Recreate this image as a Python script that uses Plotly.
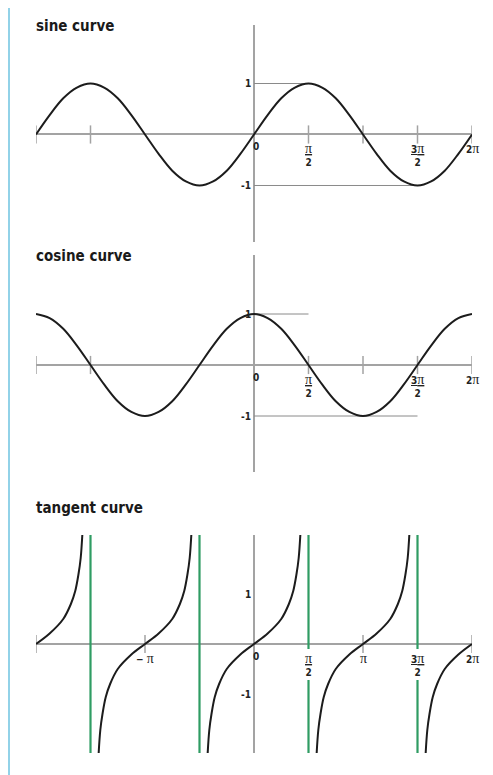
"""
Sine, cosine and tangent curves – three stacked panels drawn like a textbook figure.
"""
import numpy as np
import plotly.graph_objects as go

PI = np.pi

# ── palette ─────────────────────────────────────────────────────────
CURVE = "#1c1c1c"
AXIS = "#a3a3a3"
ASYMPTOTE = "#2f9c63"
BORDER = "#92d2e8"
TITLE_FONT = "DejaVu Sans Condensed, Liberation Sans Narrow, sans-serif"
LABEL_FONT = "DejaVu Sans Condensed, Liberation Sans Narrow, sans-serif"

# the page body has an 8px margin, so the figure is placed at (8, 8)
PAGE_OFF = 8
W, H = 493 - PAGE_OFF, 775 - PAGE_OFF


def px_x(px):
    return (px - PAGE_OFF) / W


def px_y(py):
    return 1 - (py - PAGE_OFF) / H


# ── data (x in multiples of pi) ─────────────────────────────────────
curve_x = np.arange(-2, 2.001, 0.125)          # every pi/8 from -2pi to 2pi
sine_y = [0, .38, .71, .92, 1, .92, .71, .38, 0, -.38, -.71, -.92, -1, -.92, -.71, -.38,
          0, .38, .71, .92, 1, .92, .71, .38, 0, -.38, -.71, -.92, -1, -.92, -.71, -.38, 0]
cosine_y = [1, .92, .71, .38, 0, -.38, -.71, -.92, -1, -.92, -.71, -.38, 0, .38, .71, .92,
            1, .92, .71, .38, 0, -.38, -.71, -.92, -1, -.92, -.71, -.38, 0, .38, .71, .92, 1]

# one tangent branch (offset from branch centre, value)
tan_offsets = [-0.425, -0.41, -0.39, -0.36, -0.32, -0.25, -0.125, 0,
               0.125, 0.25, 0.32, 0.36, 0.39, 0.41, 0.425]
tan_branch_y = [-2.18, -1.72, -1.40, -1.06, -0.80, -0.50, -0.21, 0,
                0.21, 0.50, 0.80, 1.06, 1.40, 1.72, 2.18]
tan_centres = [-2, -1, 0, 1, 2]
asymptote_x = [-1.5, -0.5, 0.5, 1.5]
asymptote_gap = {0.5: (-0.1, -0.72), 1.5: (-0.1, -0.72)}   # room for the fraction labels

# guide lines at +/-1 (x from, x to, y)
sine_guides = [(0, 0.5, 1), (0, 1.5, -1)]
cosine_guides = [(0, 0.5, 1), (0, 1.5, -1)]

sine_ticks = [-2, -1.5, 0.5, 1, 1.5, 2]
cosine_ticks = [-2, -1.5, 0.5, 1, 1.5, 2]
tan_ticks = [-2, -1, 1, 2]

PI_S = "<span style='font-family:Liberation Serif, serif;font-weight:normal;font-size:14px'>π</span>"
HALF = f"<u>{PI_S}</u><br>2"
THREE_HALF = f"<u>3{PI_S}</u><br>2"
trig_label_x = [0, 0.5, 1.5, 2]
trig_label_text = ["0", HALF, THREE_HALF, f"2{PI_S}"]
tan_label_x = [-1, 0, 0.5, 1, 1.5, 2]
tan_label_text = [f"− {PI_S}", "0", HALF, PI_S, THREE_HALF, f"2{PI_S}"]
y_label_vals = [1, -1]
y_label_text = ["1", "-1"]

# panel geometry (pixels in the reference) and value ranges
X_DOMAIN = [px_x(36), px_x(472)]
PANELS = [
    dict(name="sine curve", top=25, bottom=242, yrange=[-2.108, 2.147], title_py=26),
    dict(name="cosine curve", top=255, bottom=472, yrange=[-2.098, 2.157], title_py=256),
    dict(name="tangent curve", top=535, bottom=753, yrange=[-2.18, 2.18], title_py=508),
]

fig = go.Figure()
layout = dict(
    width=W, height=H,
    margin=dict(l=0, r=0, t=0, b=0),
    paper_bgcolor="white", plot_bgcolor="white",
    showlegend=False,
    annotations=[], shapes=[],
)


def axis_pair(i, p):
    sx = "" if i == 1 else str(i)
    layout[f"xaxis{sx}"] = dict(
        domain=X_DOMAIN, range=[-2 * PI, 2 * PI], anchor=f"y{sx}",
        showgrid=False, showticklabels=False, ticks="", showline=False,
        zeroline=True, zerolinecolor=AXIS, zerolinewidth=1.5, fixedrange=True,
    )
    layout[f"yaxis{sx}"] = dict(
        domain=[px_y(p["bottom"]), px_y(p["top"])], range=p["yrange"], anchor=f"x{sx}",
        showgrid=False, showticklabels=False, ticks="", showline=False,
        zeroline=True, zerolinecolor=AXIS, zerolinewidth=1.5, fixedrange=True,
    )
    return f"x{sx}", f"y{sx}"


def add_ticks(xr, yr, ticks):
    fig.add_trace(go.Scatter(
        x=[t * PI for t in ticks], y=[0] * len(ticks), xaxis=xr, yaxis=yr,
        mode="markers", hoverinfo="skip",
        marker=dict(symbol="line-ns-open", size=13, color=AXIS, line=dict(color=AXIS, width=1.5)),
    ))


def add_labels(xr, yr, xs, texts):
    for x, t in zip(xs, texts):
        layout["annotations"].append(dict(
            x=x * PI, y=0, xref=xr, yref=yr, text=f"<b>{t}</b>", showarrow=False,
            xanchor="center", yanchor="top", yshift=-5, xshift=2 if x == 0 else 0,
            font=dict(family=LABEL_FONT, size=10, color="#222"),
        ))
    for v, t in zip(y_label_vals, y_label_text):
        layout["annotations"].append(dict(
            x=0, y=v, xref=xr, yref=yr, text=f"<b>{t}</b>", showarrow=False,
            xanchor="right", yanchor="middle", xshift=-1,
            font=dict(family=LABEL_FONT, size=10, color="#222"),
        ))


def add_guides(xr, yr, guides):
    for x0, x1, y in guides:
        fig.add_trace(go.Scatter(
            x=[x0 * PI, x1 * PI], y=[y, y], xaxis=xr, yaxis=yr,
            mode="lines", line=dict(color="#8a8a8a", width=1), hoverinfo="skip",
        ))


def add_title(p):
    layout["annotations"].append(dict(
        x=X_DOMAIN[0], y=px_y(p["title_py"]), xref="paper", yref="paper",
        text=f"<b>{p['name']}</b>", showarrow=False,
        xanchor="left", yanchor="middle", xshift=-2,
        font=dict(family=TITLE_FONT, size=15, color="#1a1a1a"),
    ))


# 1  sine
xr, yr = axis_pair(1, PANELS[0])
add_guides(xr, yr, sine_guides)
add_ticks(xr, yr, sine_ticks)
fig.add_trace(go.Scatter(
    x=curve_x * PI, y=sine_y, xaxis=xr, yaxis=yr, mode="lines",
    line=dict(color=CURVE, width=2, shape="spline"), hoverinfo="skip",
))
add_labels(xr, yr, trig_label_x, trig_label_text)
add_title(PANELS[0])

# 2  cosine
xr, yr = axis_pair(2, PANELS[1])
add_guides(xr, yr, cosine_guides)
add_ticks(xr, yr, cosine_ticks)
fig.add_trace(go.Scatter(
    x=curve_x * PI, y=cosine_y, xaxis=xr, yaxis=yr, mode="lines",
    line=dict(color=CURVE, width=2, shape="spline"), hoverinfo="skip",
))
add_labels(xr, yr, trig_label_x, trig_label_text)
add_title(PANELS[1])

# 3  tangent
xr, yr = axis_pair(3, PANELS[2])
add_ticks(xr, yr, tan_ticks)
lo, hi = PANELS[2]["yrange"]
ax_x, ax_y = [], []
for a in asymptote_x:
    gap = asymptote_gap.get(a)
    if gap:
        ax_x += [a * PI, a * PI, None, a * PI, a * PI, None]
        ax_y += [hi, gap[0], None, gap[1], lo, None]
    else:
        ax_x += [a * PI, a * PI, None]
        ax_y += [hi, lo, None]
fig.add_trace(go.Scatter(
    x=ax_x, y=ax_y, xaxis=xr, yaxis=yr, mode="lines",
    line=dict(color=ASYMPTOTE, width=2.2), hoverinfo="skip",
))
tx, ty = [], []
for c in tan_centres:
    for off, v in zip(tan_offsets, tan_branch_y):
        if (c == tan_centres[0] and off < 0) or (c == tan_centres[-1] and off > 0):
            continue
        tx.append((c + off) * PI)
        ty.append(v)
    tx.append(None)
    ty.append(None)
fig.add_trace(go.Scatter(
    x=tx, y=ty, xaxis=xr, yaxis=yr, mode="lines", connectgaps=False,
    line=dict(color=CURVE, width=2, shape="spline"), hoverinfo="skip",
))
add_labels(xr, yr, tan_label_x, tan_label_text)
add_title(PANELS[2])

# light blue rule down the left edge
layout["shapes"].append(dict(
    type="line", xref="paper", yref="paper",
    x0=1 / W, x1=1 / W, y0=0, y1=1,
    line=dict(color=BORDER, width=2),
))

fig.update_layout(**layout)
fig.write_html("out.html")
